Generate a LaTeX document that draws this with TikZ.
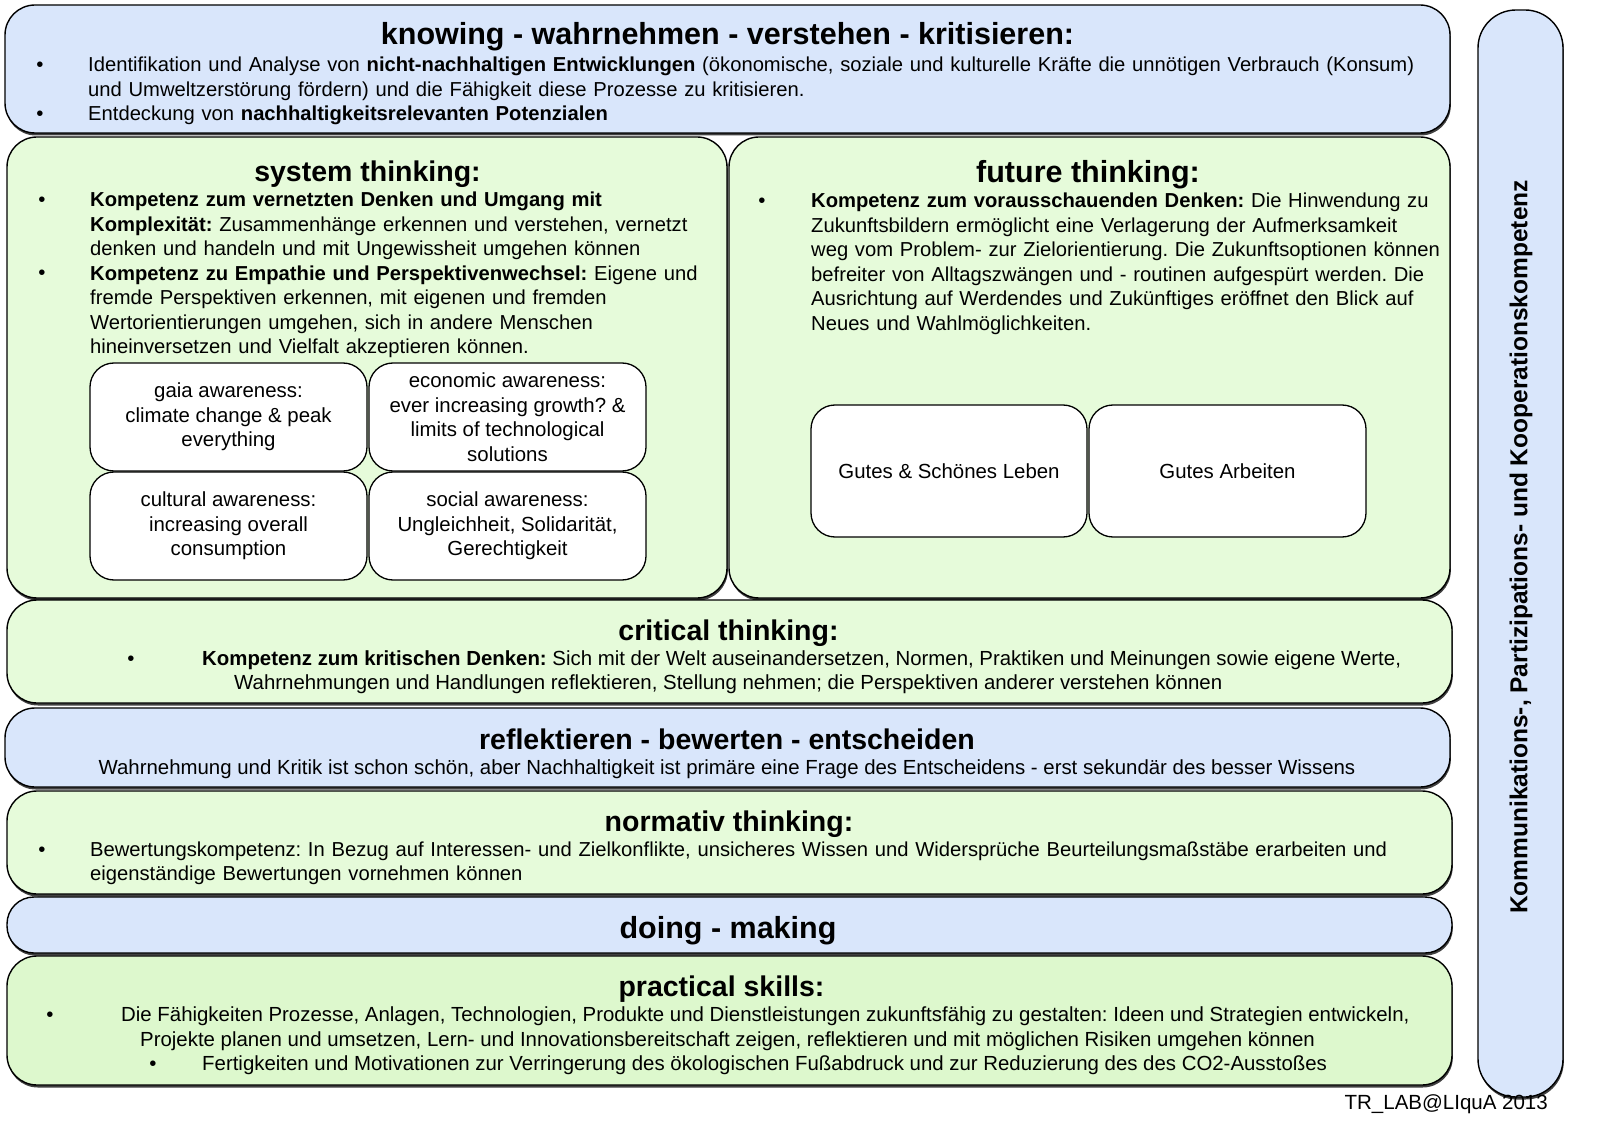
\documentclass[tikz,border=0pt]{standalone}
\usepackage{fontspec}
\setmainfont{Liberation Sans}
\usetikzlibrary{shadows}
\definecolor{bluefill}{HTML}{D9E6FB}
\definecolor{greenfill}{HTML}{E6FBDA}
\definecolor{greenfill2}{HTML}{DDF8CD}
\newcommand{\bodyfont}{\fontsize{20.4}{24.5}\selectfont\frenchspacing}
\newcommand{\bodyfontb}{\fontsize{20.2}{24.5}\selectfont\frenchspacing}
\tikzset{
  bigbox/.style={draw=black, line width=1.4pt, rounded corners=30pt, inner sep=0pt,
    drop shadow={shadow xshift=0.8pt, shadow yshift=-2.5pt, opacity=0.75, fill=black}},
  smallbox/.style={draw=black, line width=1.3pt, rounded corners=24pt, fill=white,
    align=center, font=\bodyfont, inner sep=0pt},
  ttl/.style={anchor=base, inner sep=0pt, font=\fontsize{28.5}{32}\selectfont\bfseries},
  ttlbig/.style={anchor=base, inner sep=0pt, font=\fontsize{30.5}{34}\selectfont\bfseries},
  txt/.style={anchor=base west, inner sep=0pt, align=left, text width=#1, font=\bodyfontb},
  txt/.default=600pt,
  line/.style={anchor=base west, inner sep=0pt, font=\bodyfont},
  bul/.style={anchor=base, inner sep=0pt, font=\bodyfont},
}
\begin{document}
\begin{tikzpicture}[x=1pt,y=-1pt]
\useasboundingbox (0,0) rectangle (1599,1139);

% ---------- knowing ----------
\node[bigbox, fill=bluefill, minimum width=1445pt, minimum height=128pt] (knowbox) at (727.5,69) {};
\node[ttlbig] (knowttl) at (727.5,45) {knowing - wahrnehmen - verstehen - kritisieren:};
\node[bul] (knowb1) at (40,72) {•};
\node[bul] (knowb2) at (40,121) {•};
\node[txt=1400pt] (knowtxt) at (88,72) {Identifikation und Analyse von \textbf{nicht-nachhaltigen Entwicklungen} (ökonomische, soziale und kulturelle Kräfte die unnötigen Verbrauch (Konsum)\\
und Umweltzerstörung fördern) und die Fähigkeit diese Prozesse zu kritisieren.\\
Entdeckung von \textbf{nachhaltigkeitsrelevanten Potenzialen}};

% ---------- system thinking ----------
\node[bigbox, fill=greenfill, minimum width=720pt, minimum height=461pt] (sysbox) at (367,367.5) {};
\node[ttl] (systtl) at (367.5,182) {system thinking:};
\node[bul] (sysb1) at (42,207) {•};
\node[bul] (sysb2) at (42,280) {•};
\node[txt=700pt] (systxt) at (90,207) {\textbf{Kompetenz zum vernetzten Denken und Umgang mit}\\
\textbf{Komplexität:} Zusammenhänge erkennen und verstehen, vernetzt\\
denken und handeln und mit Ungewissheit umgehen können\\
\textbf{Kompetenz zu Empathie und Perspektivenwechsel:} Eigene und\\
fremde Perspektiven erkennen, mit eigenen und fremden\\
Wertorientierungen umgehen, sich in andere Menschen\\
hineinversetzen und Vielfalt akzeptieren können.};

\node[smallbox, minimum width=277pt, minimum height=108pt] (gaia) at (228.5,417) {gaia awareness:\\climate change \& peak\\everything};
\node[smallbox, minimum width=277pt, minimum height=108pt] (econ) at (507.5,417) {economic awareness:\\ever increasing growth? \&\\limits of technological\\solutions};
\node[smallbox, minimum width=277pt, minimum height=108pt] (cult) at (228.5,526) {cultural awareness:\\increasing overall\\consumption};
\node[smallbox, minimum width=277pt, minimum height=108pt] (soc) at (507.5,526) {social awareness:\\Ungleichheit, Solidarität,\\Gerechtigkeit};

% ---------- future thinking ----------
\node[bigbox, fill=greenfill, minimum width=721pt, minimum height=461pt] (futbox) at (1089.5,367.5) {};
\node[ttlbig] (futttl) at (1088,183) {future thinking:};
\node[bul] (futb1) at (762,208) {•};
\node[txt=760pt] (futtxt) at (811,208) {\textbf{Kompetenz zum vorausschauenden Denken:} Die Hinwendung zu\\
Zukunftsbildern ermöglicht eine Verlagerung der Aufmerksamkeit\\
weg vom Problem- zur Zielorientierung. Die Zukunftsoptionen können\\
befreiter von Alltagszwängen und - routinen aufgespürt werden. Die\\
Ausrichtung auf Werdendes und Zukünftiges eröffnet den Blick auf\\
Neues und Wahlmöglichkeiten.};
\node[smallbox, minimum width=276pt, minimum height=132pt] (leben) at (949,471) {Gutes \& Schönes Leben};
\node[smallbox, minimum width=277pt, minimum height=132pt] (arbeit) at (1227.5,471) {Gutes Arbeiten};

% ---------- critical thinking ----------
\node[bigbox, fill=greenfill, minimum width=1445pt, minimum height=103pt] (critbox) at (729.5,651.5) {};
\node[ttl] (critttl) at (728.5,640) {critical thinking:};
\node[bul] (critb1) at (131,665) {•};
\node[line] (crit1) at (202,665) {\textbf{Kompetenz zum kritischen Denken:} Sich mit der Welt auseinandersetzen, Normen, Praktiken und Meinungen sowie eigene Werte,};
\node[line] (crit2) at (234,689) {Wahrnehmungen und Handlungen reflektieren, Stellung nehmen; die Perspektiven anderer verstehen können};

% ---------- reflektieren ----------
\node[bigbox, fill=bluefill, minimum width=1445pt, minimum height=79pt] (reflbox) at (727.5,747.5) {};
\node[ttl] (reflttl) at (727,749) {reflektieren - bewerten - entscheiden};
\node[anchor=base, inner sep=0pt, font=\bodyfont] (refltxt) at (727,774) {Wahrnehmung und Kritik ist schon schön, aber Nachhaltigkeit ist primäre eine Frage des Entscheidens - erst sekundär des besser Wissens};

% ---------- normativ thinking ----------
\node[bigbox, fill=greenfill, minimum width=1445pt, minimum height=103pt] (normbox) at (729.5,842.5) {};
\node[ttl] (normttl) at (729,831) {normativ thinking:};
\node[bul] (normb1) at (42,856) {•};
\node[txt=1400pt] (normtxt) at (90,856) {Bewertungskompetenz: In Bezug auf Interessen- und Zielkonflikte, unsicheres Wissen und Widersprüche Beurteilungsmaßstäbe erarbeiten und\\
eigenständige Bewertungen vornehmen können};

% ---------- doing - making ----------
\node[bigbox, fill=bluefill, rounded corners=27pt, minimum width=1445pt, minimum height=56pt] (doingbox) at (729.5,925) {};
\node[ttlbig] (doingttl) at (728,938) {doing - making};

% ---------- practical skills ----------
\node[bigbox, fill=greenfill2, minimum width=1445pt, minimum height=129pt] (practbox) at (729.5,1020.5) {};
\node[ttl] (practttl) at (721.5,996) {practical skills:};
\node[bul] (practb1) at (50,1021) {•};
\node[line] (pract1) at (121,1021) {Die Fähigkeiten Prozesse, Anlagen, Technologien, Produkte und Dienstleistungen zukunftsfähig zu gestalten: Ideen und Strategien entwickeln,};
\node[line] (pract2) at (140,1046) {Projekte planen und umsetzen, Lern- und Innovationsbereitschaft zeigen, reflektieren und mit möglichen Risiken umgehen können};
\node[bul] (practb2) at (153,1070) {•};
\node[line] (pract3) at (202,1070) {Fertigkeiten und Motivationen zur Verringerung des ökologischen Fußabdruck und zur Reduzierung des des CO2-Ausstoßes};

% ---------- side column ----------
\node[bigbox, fill=bluefill, rounded corners=38pt, minimum width=85pt, minimum height=1087pt] (sidebox) at (1520.5,553.5) {};
\node[rotate=90, inner sep=0pt, font=\fontsize{24.5}{28}\selectfont\bfseries] (sidetxt) at (1521,547) {Kommunikations-, Partizipations- und Kooperationskompetenz};

% ---------- credit ----------
\node[anchor=base east, inner sep=0pt, font=\fontsize{20.5}{24}\selectfont] (credit) at (1548,1109) {TR\_LAB@LIquA 2013};
\end{tikzpicture}
\end{document}
